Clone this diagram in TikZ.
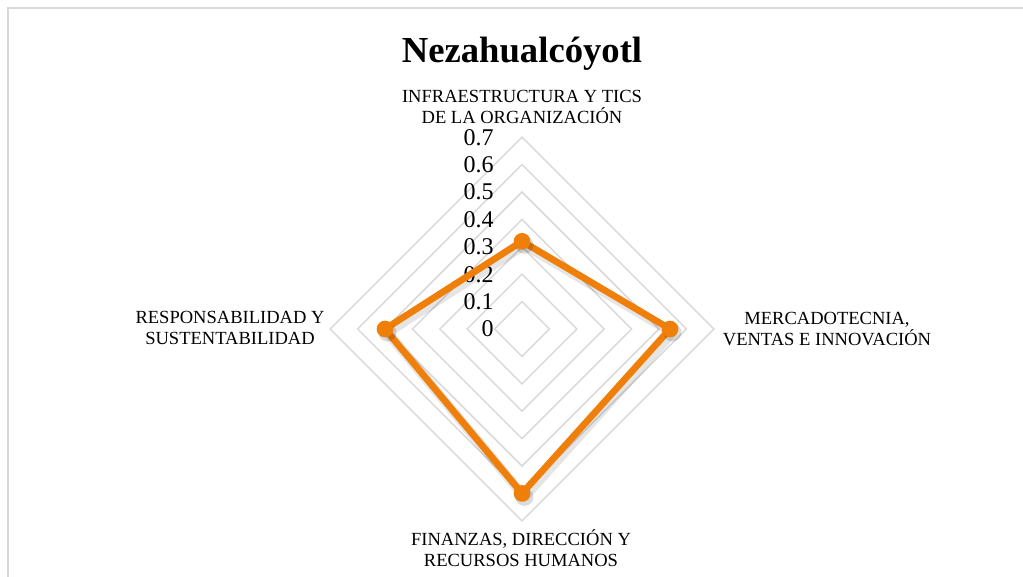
\documentclass[tikz,border=0pt]{standalone}
\usepackage{fontspec}
\setmainfont{Liberation Serif}
\definecolor{gridc}{RGB}{217,217,217}
\definecolor{serie}{RGB}{240,127,10}
\begin{document}
\begin{tikzpicture}[x=0.75pt,y=-0.75pt,
  gridline/.style={draw=gridc, line width=1.1pt},
  catlabel/.style={align=center, font=\fontsize{13.9}{15.3}\selectfont, inner sep=0pt},
  ticklabel/.style={anchor=east, font=\fontsize{18}{18}\selectfont, inner sep=0pt},
  serieline/.style={draw=serie, line width=5pt, line join=round},
  shadowline/.style={draw=black, opacity=0.10, line width=7.5pt, line join=round},
  marker/.style={circle, fill=serie, minimum size=12.5pt, inner sep=0pt}]
\useasboundingbox (0,0) rectangle (1023,577);
\fill[white] (0,0) rectangle (1023,577);
\draw[gridc, line width=1.2pt] (8,600) -- (8,8) -- (1040,8);
\foreach \k in {1,...,7} {
  \pgfmathsetmacro{\r}{27.4*\k}
  \draw[gridline] (522,329-\r) -- (522+\r,329) -- (522,329+\r) -- (522-\r,329) -- cycle;
}
\foreach \k/\t in {0/0,1/0.1,2/0.2,3/0.3,4/0.4,5/0.5,6/0.6,7/0.7} {
  \node[ticklabel] (t\k) at (494,329-27.4*\k) {\t};
}
\coordinate (a) at (522,241.3);
\coordinate (b) at (670,329);
\coordinate (d) at (522,493.4);
\coordinate (e) at (385,329);
\draw[shadowline, transform canvas={shift={(1.8pt,-2.6pt)}}] (a) -- (b) -- (d) -- (e) -- cycle;
\draw[serieline] (a) -- (b) -- (d) -- (e) -- cycle;
\foreach \p in {a,b,d,e} {
  \fill[black, opacity=0.14] ([shift={(1.8pt,-2.6pt)}]\p) circle (6.8pt);
  \node[marker] (m\p) at (\p) {};
}
\node[anchor=base, font=\fontsize{27.5}{30}\bfseries] (title) at (522,63) {Nezahualcóyotl};
\node[catlabel] (ca) at (522,107) {INFRAESTRUCTURA Y TICS\\DE LA ORGANIZACIÓN};
\node[catlabel] (cb) at (827,329) {MERCADOTECNIA,\\VENTAS E INNOVACIÓN};
\node[catlabel] (cd) at (521,548) {FINANZAS, DIRECCIÓN Y\\RECURSOS HUMANOS};
\node[catlabel] (ce) at (230,328) {RESPONSABILIDAD Y\\SUSTENTABILIDAD};
\end{tikzpicture}
\end{document}
